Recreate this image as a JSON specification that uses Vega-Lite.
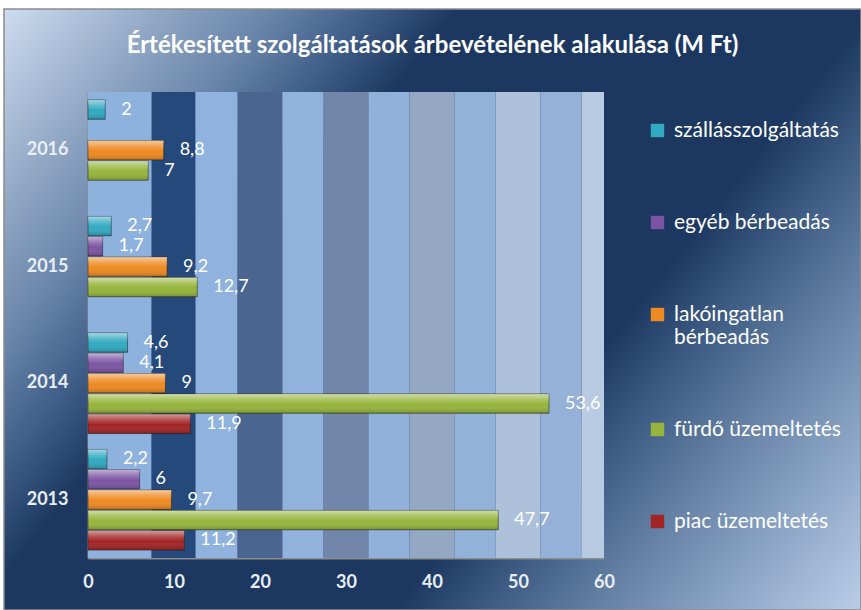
{
  "$schema": "https://vega.github.io/schema/vega-lite/v6.json",
  "width": 857,
  "height": 601,
  "autosize": {"type": "none"},
  "padding": {"left": 4, "top": 9, "right": 0, "bottom": 0},
  "background": "white",
  "view": {
    "stroke": "#8c8c8c",
    "strokeWidth": 1.5,
    "fill": {
      "gradient": "linear",
      "x1": 0, "y1": 0, "x2": 1.1876, "y2": 0.665,
      "stops": [
        {"offset": 0, "color": "#cddcf0"},
        {"offset": 0.12, "color": "#90a7c4"},
        {"offset": 0.2, "color": "#6a86aa"},
        {"offset": 0.27, "color": "#41608a"},
        {"offset": 0.34, "color": "#1c3861"},
        {"offset": 0.65, "color": "#1c3861"},
        {"offset": 0.72, "color": "#3e5c84"},
        {"offset": 0.8, "color": "#6480a4"},
        {"offset": 0.9, "color": "#8fa8c8"},
        {"offset": 1, "color": "#b9cde7"}
      ]
    }
  },
  "config": {
    "locale": {"number": {"decimal": ",", "thousands": " ", "grouping": [3], "currency": ["", " Ft"]}}
  },
  "title": {
    "text": "Értékesített szolgáltatások árbevételének alakulása (M Ft)",
    "font": "Lato",
    "fontSize": 24,
    "fontWeight": "bold",
    "color": "white",
    "anchor": "middle",
    "frame": "group",
    "orient": "top",
    "offset": -49
  },
  "datasets": {
    "bands": [
      {"from": 0, "to": 7.4, "shade": "b0"},
      {"from": 7.4, "to": 12.5, "shade": "b1"},
      {"from": 12.5, "to": 17.4, "shade": "b2"},
      {"from": 17.4, "to": 22.6, "shade": "b3"},
      {"from": 22.6, "to": 27.4, "shade": "b4"},
      {"from": 27.4, "to": 32.6, "shade": "b5"},
      {"from": 32.6, "to": 37.4, "shade": "b6"},
      {"from": 37.4, "to": 42.6, "shade": "b7"},
      {"from": 42.6, "to": 47.4, "shade": "b8"},
      {"from": 47.4, "to": 52.6, "shade": "b9"},
      {"from": 52.6, "to": 57.4, "shade": "b10"},
      {"from": 57.4, "to": 60, "shade": "b11"}
    ],
    "rev": [
      {"year": "2013", "cat": "szállásszolgáltatás", "value": 2.2},
      {"year": "2013", "cat": "egyéb bérbeadás", "value": 6},
      {"year": "2013", "cat": "lakóingatlan bérbeadás", "value": 9.7},
      {"year": "2013", "cat": "fürdő üzemeltetés", "value": 47.7},
      {"year": "2013", "cat": "piac üzemeltetés", "value": 11.2},
      {"year": "2014", "cat": "szállásszolgáltatás", "value": 4.6},
      {"year": "2014", "cat": "egyéb bérbeadás", "value": 4.1},
      {"year": "2014", "cat": "lakóingatlan bérbeadás", "value": 9},
      {"year": "2014", "cat": "fürdő üzemeltetés", "value": 53.6},
      {"year": "2014", "cat": "piac üzemeltetés", "value": 11.9},
      {"year": "2015", "cat": "szállásszolgáltatás", "value": 2.7},
      {"year": "2015", "cat": "egyéb bérbeadás", "value": 1.7},
      {"year": "2015", "cat": "lakóingatlan bérbeadás", "value": 9.2},
      {"year": "2015", "cat": "fürdő üzemeltetés", "value": 12.7},
      {"year": "2016", "cat": "szállásszolgáltatás", "value": 2},
      {"year": "2016", "cat": "lakóingatlan bérbeadás", "value": 8.8},
      {"year": "2016", "cat": "fürdő üzemeltetés", "value": 7}
    ]
  },
  "layer": [
    {
      "data": {"name": "bands"},
      "mark": {"type": "rect"},
      "encoding": {
        "x": {
          "field": "from", "type": "quantitative",
          "scale": {"domain": [0, 60], "range": [84, 600], "nice": false, "zero": false},
          "axis": {
            "orient": "bottom", "offset": -52, "title": null, "ticks": false, "grid": false,
            "values": [0, 10, 20, 30, 40, 50, 60], "format": "d", "labelFlush": false,
            "labelFont": "Lato", "labelFontWeight": "bold", "labelFontSize": 18, "labelColor": "#e9eef5",
            "labelPadding": 15, "domainColor": "#8c8c8c", "domainWidth": 2
          }
        },
        "x2": {"field": "to"},
        "y": {"datum": 0, "type": "quantitative", "scale": {"domain": [0, 1], "range": [549, 83]}, "axis": null},
        "y2": {"datum": 1},
        "fill": {
          "field": "shade", "type": "nominal", "legend": null,
          "scale": {
            "domain": ["b0","b1","b2","b3","b4","b5","b6","b7","b8","b9","b10","b11"],
            "range": ["#8eb2de","#26497b","#8fb2de","#4a658f","#90b2dc","#7186a8","#91b1da","#94a8c3","#93b2da","#aec1da","#95b1d7","#b9cbe3"]
          }
        }
      }
    },
    {
      "data": {"name": "rev"},
      "encoding": {
        "y": {
          "field": "year", "type": "nominal",
          "scale": {"domain": ["2016", "2015", "2014", "2013"], "range": [83, 549], "paddingInner": 0, "paddingOuter": 0},
          "axis": {
            "orient": "left", "offset": -84, "title": null, "ticks": false,
            "labelFont": "Lato", "labelFontWeight": "bold", "labelFontSize": 18, "labelColor": "#e9eef5",
            "labelPadding": 20, "domainColor": "#8c8c8c", "domainWidth": 2
          }
        },
        "yOffset": {
          "field": "cat", "type": "nominal",
          "scale": {
            "domain": ["szállásszolgáltatás", "egyéb bérbeadás", "lakóingatlan bérbeadás", "fürdő üzemeltetés", "piac üzemeltetés"],
            "paddingInner": 0.05, "paddingOuter": 0.39
          }
        },
        "x": {
          "field": "value", "type": "quantitative",
          "scale": {"domain": [0, 60], "range": [84, 600], "nice": false, "zero": false},
          "axis": {
            "orient": "bottom", "offset": -52, "title": null, "ticks": false, "grid": false,
            "values": [0, 10, 20, 30, 40, 50, 60], "format": "d", "labelFlush": false,
            "labelFont": "Lato", "labelFontWeight": "bold", "labelFontSize": 18, "labelColor": "#e9eef5",
            "labelPadding": 15, "domainColor": "#8c8c8c", "domainWidth": 2
          }
        }
      },
      "layer": [
        {
          "mark": {"type": "bar", "stroke": "rgba(30,30,30,0.55)", "strokeWidth": 1},
          "encoding": {
            "color": {
              "field": "cat", "type": "nominal",
              "scale": {
                "domain": ["szállásszolgáltatás", "egyéb bérbeadás", "lakóingatlan bérbeadás", "fürdő üzemeltetés", "piac üzemeltetés"],
                "range": ["#31a9c1", "#7b55a3", "#ee8a22", "#97b53c", "#a32424"]
              },
              "legend": {
                "orient": "none", "legendX": 643, "legendY": 111, "direction": "vertical",
                "title": null, "rowPadding": 70, "symbolType": "square", "symbolSize": 180,
                "symbolStrokeWidth": 0, "labelFont": "Lato", "labelFontSize": 21, "labelColor": "white",
                "labelLimit": 300, "labelOffset": 6,
                "labelExpr": "datum.label == 'lakóingatlan bérbeadás' ? ['lakóingatlan', 'bérbeadás'] : datum.label"
              }
            }
          }
        },
        {
          "mark": {
            "type": "bar",
            "fill": {
              "gradient": "linear", "x1": 0, "y1": 0, "x2": 0, "y2": 1,
              "stops": [
                {"offset": 0, "color": "rgba(255,255,255,0.55)"},
                {"offset": 0.3, "color": "rgba(255,255,255,0.2)"},
                {"offset": 0.55, "color": "rgba(255,255,255,0)"},
                {"offset": 1, "color": "rgba(0,0,0,0.2)"}
              ]
            }
          }
        },
        {
          "mark": {"type": "text", "align": "left", "baseline": "middle", "dx": 16, "font": "Lato", "fontSize": 18, "color": "white"},
          "encoding": {
            "text": {"field": "value", "type": "quantitative", "format": ".1~f"}
          }
        }
      ]
    }
  ],
  "resolve": {"scale": {"y": "independent"}, "axis": {"y": "independent"}}
}
